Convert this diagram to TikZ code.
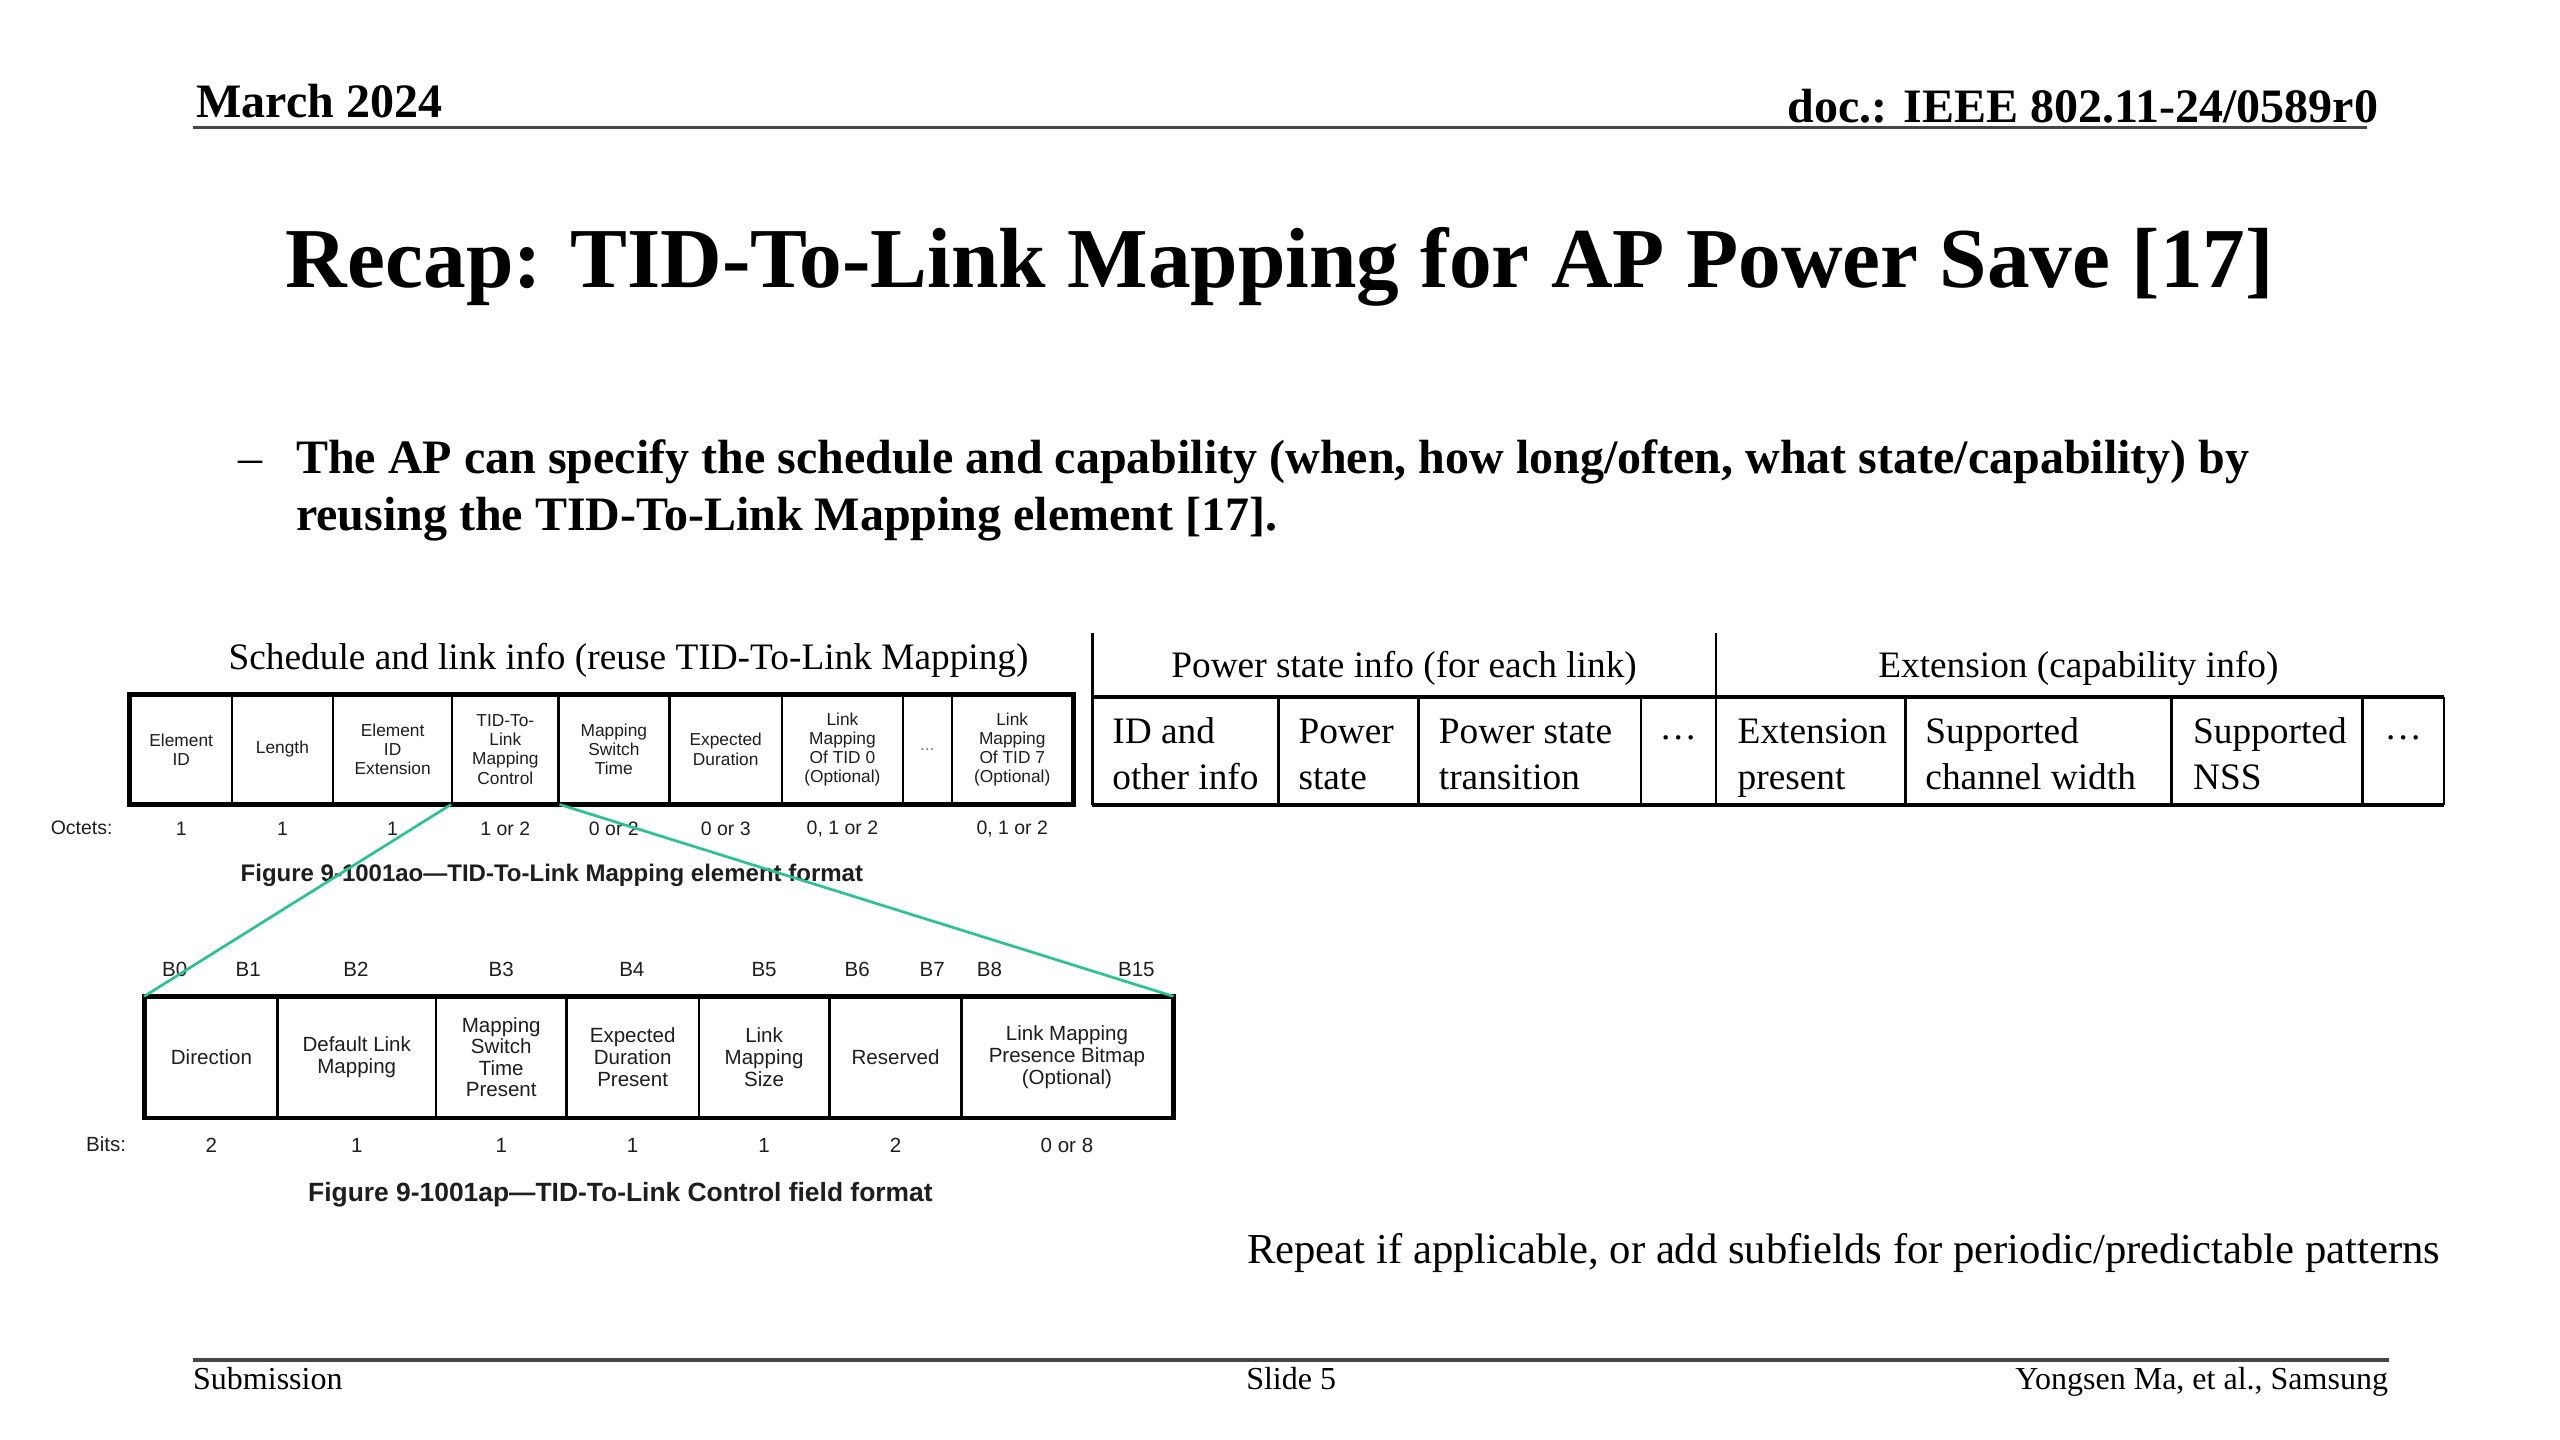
\documentclass[tikz,border=0pt]{standalone}
\usepackage{fontspec}
\setmainfont{Liberation Serif}
\newfontfamily\specfont{Liberation Sans}
\usetikzlibrary{fit}
\definecolor{linkgreen}{RGB}{40,195,145}
\definecolor{spectext}{RGB}{30,30,30}
\definecolor{rulegray}{RGB}{70,70,70}
\tikzset{
  specbox/.style={draw, line width=0.9pt, inner sep=0pt},
  elemtext/.style={inner sep=0pt, align=center, text=spectext, font=\specfont\fontsize{6.5}{7.2}\selectfont},
  ctltext/.style={inner sep=0pt, align=center, text=spectext, font=\specfont\fontsize{7.7}{8.1}\selectfont},
  specframe/.style={draw, line width=1.8pt, inner sep=0pt},
  spectxt/.style={inner sep=0pt, text=spectext, font=\specfont\fontsize{7.3}{8}\selectfont},
  ctltxt/.style={inner sep=0pt, text=spectext, font=\specfont\fontsize{7.7}{8.5}\selectfont},
  speccap/.style={inner sep=0pt, text=spectext, font=\specfont\bfseries\fontsize{9}{10}\selectfont},
  pstxt/.style={inner sep=0pt, anchor=west, align=left, font=\fontsize{14}{17.1}\selectfont},
  pshead/.style={inner sep=0pt, anchor=base, font=\fontsize{14}{17}\selectfont},
  psline/.style={line width=1pt},
  psframe/.style={line width=1.5pt},
  hdrrule/.style={line width=1.3pt, rulegray},
}
% #1 text style, #2 name, #3 x1, #4 x2, #5 y1, #6 y2, #7 text
\newcommand\fcell[7]{%
  \node[specbox, fit={(#3,#5)(#4,#6)}] (#2) {};
  \node[#1] (#2-t) at (#2.center) {#7};}
\begin{document}
\begin{tikzpicture}[x=0.6122pt, y=-0.6122pt]
\useasboundingbox (0,0) rectangle (1568,882);
\fill[white] (0,0) rectangle (1568,882);

% header
\node[inner sep=0pt, anchor=base west, font=\bfseries\fontsize{18}{20}\selectfont] (date) at (120,72) {March 2024};
\node[inner sep=0pt, anchor=base east, font=\bfseries\fontsize{18}{20}\selectfont] (doc) at (1457,75) {doc.: IEEE 802.11-24/0589r0};
\coordinate (hl) at (118,78);
\coordinate (hr) at (1450,78);
\draw[hdrrule] (hl) -- (hr);

% title
\node[inner sep=0pt, anchor=base, font=\bfseries\fontsize{32}{36}\selectfont] (title) at (784,176) {Recap: TID-To-Link Mapping for AP Power Save [17]};

% bullet
\node[inner sep=0pt, anchor=base west, font=\fontsize{18}{21.6}\selectfont] (dash) at (146,290) {--};
\node[inner sep=0pt, anchor=base west, font=\bfseries\fontsize{18}{21.6}\selectfont] (b1) at (181,290) {The AP can specify the schedule and capability (when, how long/often, what state/capability) by};
\node[inner sep=0pt, anchor=base west, font=\bfseries\fontsize{18}{21.6}\selectfont] (b2) at (181,325) {reusing the TID-To-Link Mapping element [17].};

% ---------- TID-To-Link Mapping element ----------
\node[pshead] (schedhead) at (385,410) {Schedule and link info (reuse TID-To-Link Mapping)};
\fcell{elemtext}{c1}{80}{142}{426}{492}{Element\\ID}
\fcell{elemtext}{c2}{142}{204}{426}{492}{Length}
\fcell{elemtext}{c3}{204}{277}{426}{492}{Element\\ID\\Extension}
\fcell{elemtext}{c4}{277}{342}{426}{492}{TID-To-\\Link\\Mapping\\Control}
\fcell{elemtext}{c5}{342}{410}{426}{492}{Mapping\\Switch\\Time}
\fcell{elemtext}{c6}{410}{479}{426}{492}{Expected\\Duration}
\fcell{elemtext}{c7}{479}{553}{426}{492}{Link\\Mapping\\Of TID 0\\(Optional)}
\fcell{elemtext, text=gray}{c8}{553}{583}{426}{492}{...}
\fcell{elemtext}{c9}{583}{657}{426}{492}{Link\\Mapping\\Of TID 7\\(Optional)}
\node[specframe, fit=(c1)(c9)] (elemframe) {};

\node[spectxt] (octets) at (50,507) {Octets:};
\node[spectxt] (o1) at ([yshift=-15*0.6122pt]c1.south) {1};
\node[spectxt] (o2) at ([yshift=-15*0.6122pt]c2.south) {1};
\node[spectxt] (o3) at ([yshift=-15*0.6122pt]c3.south) {1};
\node[spectxt] (o4) at ([yshift=-15*0.6122pt]c4.south) {1 or 2};
\node[spectxt] (o5) at ([yshift=-15*0.6122pt]c5.south) {0 or 2};
\node[spectxt] (o6) at ([yshift=-15*0.6122pt]c6.south) {0 or 3};
\node[spectxt] (o7) at ([yshift=-15*0.6122pt]c7.south) {0, 1 or 2};
\node[spectxt] (o9) at ([yshift=-15*0.6122pt]c9.south) {0, 1 or 2};
\node[speccap] (cap1) at (338,536) {Figure 9-1001ao—TID-To-Link Mapping element format};

% ---------- TID-To-Link Control field ----------
\node[ctltxt] (bb0) at (107,594) {B0};
\node[ctltxt] (bb1) at (152,594) {B1};
\node[ctltxt] (bb2) at (218,594) {B2};
\node[ctltxt] (bb3) at (307,594) {B3};
\node[ctltxt] (bb4) at (387,594) {B4};
\node[ctltxt] (bb5) at (468,594) {B5};
\node[ctltxt] (bb6) at (525,594) {B6};
\node[ctltxt] (bb7) at (571,594) {B7};
\node[ctltxt] (bb8) at (606,594) {B8};
\node[ctltxt] (bb15) at (696,594) {B15};
\fcell{ctltext}{d1}{89}{170}{611}{684}{Direction}
\fcell{ctltext}{d2}{170}{267}{611}{684}{Default Link\\Mapping}
\fcell{ctltext}{d3}{267}{347}{611}{684}{Mapping\\Switch\\Time\\Present}
\fcell{ctltext}{d4}{347}{428}{611}{684}{Expected\\Duration\\Present}
\fcell{ctltext}{d5}{428}{508}{611}{684}{Link\\Mapping\\Size}
\fcell{ctltext}{d6}{508}{589}{611}{684}{Reserved}
\fcell{ctltext}{d7}{589}{718}{611}{684}{Link Mapping\\Presence Bitmap\\(Optional)}
\node[specframe, fit=(d1)(d7)] (ctlframe) {};

\node[ctltxt] (bits) at (65,701) {Bits:};
\node[ctltxt] (n1) at ([yshift=-17*0.6122pt]d1.south) {2};
\node[ctltxt] (n2) at ([yshift=-17*0.6122pt]d2.south) {1};
\node[ctltxt] (n3) at ([yshift=-17*0.6122pt]d3.south) {1};
\node[ctltxt] (n4) at ([yshift=-17*0.6122pt]d4.south) {1};
\node[ctltxt] (n5) at ([yshift=-17*0.6122pt]d5.south) {1};
\node[ctltxt] (n6) at ([yshift=-17*0.6122pt]d6.south) {2};
\node[ctltxt] (n7) at ([yshift=-17*0.6122pt]d7.south) {0 or 8};
\node[speccap, font=\specfont\bfseries\fontsize{9.9}{11}\selectfont] (cap2) at (380,732) {Figure 9-1001ap—TID-To-Link Control field format};

% zoom lines
\draw[linkgreen, line width=1pt] (c4.south west) -- (d1.north west);
\draw[linkgreen, line width=1pt] (c4.south east) -- (d7.north east);

% ---------- Power state / Extension table ----------
\coordinate (pL) at (669,388);
\coordinate (pM) at (1051,388);
\draw[psline] (pL) -- (669,493);
\draw[psline] (pM) -- (1051,493);
\draw[psframe] (669,427) -- (1497,427);
\draw[psframe] (669,493) -- (1497,493);
\draw[psline] (1497,427) -- (1497,493);
\foreach \xx in {783,869,1005,1167,1330,1447} {\draw[psline] (\xx,427) -- (\xx,493);}
\node[pshead] (pshead) at (860,415) {Power state info (for each link)};
\node[pshead] (exthead) at (1273,415) {Extension (capability info)};
\node[pstxt] (t1) at (681,464) {\strut ID and\\\strut other info};
\node[pstxt] (t2) at (795,464) {\strut Power\\\strut state};
\node[pstxt] (t3) at (881,464) {\strut Power state\\\strut transition};
\node[pstxt, anchor=base] (t4) at (1028,453) {\dots};
\node[pstxt] (t5) at (1064,464) {\strut Extension\\\strut present};
\node[pstxt] (t6) at (1179,464) {\strut Supported\\\strut channel width};
\node[pstxt] (t7) at (1343,464) {\strut Supported\\\strut NSS};
\node[pstxt, anchor=base] (t8) at (1472,453) {\dots};

\node[inner sep=0pt, anchor=base east, font=\fontsize{16}{19}\selectfont] (repeat) at (1495,774) {Repeat if applicable, or add subfields for periodic/predictable patterns};

% footer
\draw[hdrrule] (118,833) -- (1463,833);
\node[inner sep=0pt, anchor=base west, font=\fontsize{12}{14}\selectfont] (sub) at (118,851) {Submission};
\node[inner sep=0pt, anchor=base west, font=\fontsize{12}{14}\selectfont] (slide) at (763,851) {Slide 5};
\node[inner sep=0pt, anchor=base east, font=\fontsize{12}{14}\selectfont] (auth) at (1463,851) {Yongsen Ma, et al., Samsung};
\end{tikzpicture}
\end{document}
